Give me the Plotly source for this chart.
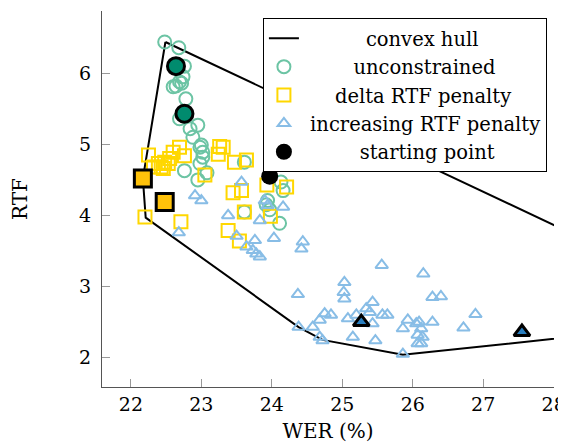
import plotly.graph_objects as go

# convex hull vertices (last vertex lies beyond the visible x-range)
hull_wer = [22.49, 22.17, 22.21, 24.38, 24.72, 25.86, 30.8, 22.49]
hull_rtf = [6.44, 4.52, 3.97, 2.43, 2.25, 2.04, 2.56, 6.44]

unc_wer = [22.48, 22.68, 22.76, 22.74, 22.69, 22.64, 22.72, 22.60, 22.78, 22.69,
           22.95, 22.84, 22.88, 23.00, 22.98, 23.02, 23.02, 22.98, 22.76, 23.08,
           22.95, 23.61, 24.13, 24.16, 23.94, 23.92, 23.97, 24.11, 23.61]
unc_rtf = [6.44, 6.36, 6.10, 5.95, 5.88, 5.82, 5.86, 5.81, 5.64, 5.36,
           5.27, 5.22, 5.10, 4.99, 4.96, 4.89, 4.82, 4.73, 4.63, 4.60,
           4.50, 4.75, 4.47, 4.35, 4.21, 4.15, 4.08, 3.89, 4.05]
unc_sel_wer = [22.64, 22.76]
unc_sel_rtf = [6.10, 5.43]

delta_wer = [22.25, 22.39, 22.48, 22.46, 22.55, 22.60, 22.69, 22.76, 22.32, 22.53,
             22.43, 22.20, 22.71, 23.05, 23.26, 23.31, 23.24, 23.47, 23.64, 23.45,
             23.57, 23.93, 24.21, 23.61, 23.98, 23.38, 23.54]
delta_rtf = [4.85, 4.73, 4.75, 4.66, 4.80, 4.89, 4.96, 4.84, 4.68, 4.73,
             4.68, 3.98, 3.91, 4.57, 4.97, 4.96, 4.86, 4.75, 4.78, 4.32,
             4.35, 4.43, 4.40, 4.05, 3.99, 3.79, 3.64]
delta_sel_wer = [22.17, 22.48]
delta_sel_rtf = [4.52, 4.19]

inc_wer = [22.91, 23.00, 23.38, 22.68, 23.57, 23.50, 23.76, 23.64, 23.73, 23.83,
           23.78, 24.03, 23.83, 23.94, 24.16, 23.90, 24.44, 24.42, 25.56, 25.03,
           25.02, 25.03, 25.43, 24.37, 24.75, 24.84, 24.68, 24.58, 24.38, 25.08,
           25.20, 25.34, 25.39, 25.43, 25.57, 25.64, 25.15, 24.68, 24.72, 25.47,
           25.86, 25.86, 25.93, 26.05, 26.07, 26.07, 26.15, 26.28, 26.40, 26.09,
           26.28, 26.12, 26.14, 26.12, 26.72, 26.89]
inc_rtf = [4.28, 4.21, 4.00, 3.76, 4.47, 3.71, 3.65, 3.56, 3.51, 3.42,
           3.46, 3.68, 3.93, 4.14, 4.12, 4.21, 3.63, 3.53, 3.30, 3.06,
           2.92, 2.83, 2.78, 2.89, 2.62, 2.60, 2.53, 2.43, 2.43, 2.55,
           2.60, 2.69, 2.64, 2.48, 2.60, 2.60, 2.29, 2.29, 2.24, 2.24,
           2.05, 2.41, 2.53, 2.48, 2.32, 2.20, 3.18, 2.85, 2.86, 2.50,
           2.50, 2.41, 2.29, 2.20, 2.42, 2.61]
inc_sel_wer = [25.27, 27.55]
inc_sel_rtf = [2.50, 2.36]

start_wer = [23.97]
start_rtf = [4.55]

x_ticks = [22, 23, 24, 25, 26, 27, 28]
y_ticks = [2, 3, 4, 5, 6]

FONT = "DejaVu Serif"
NB = "\u00a0"

fig = go.Figure()
fig.add_trace(go.Scatter(x=hull_wer, y=hull_rtf, mode="lines",
                         line=dict(color="black", width=2),
                         name=NB * 10 + "convex hull"))
fig.add_trace(go.Scatter(x=unc_wer, y=unc_rtf, mode="markers",
                         marker=dict(symbol="circle-open", size=13, color="#6cc4a4",
                                     line=dict(width=2, color="#6cc4a4")),
                         name=NB * 8 + "unconstrained"))
fig.add_trace(go.Scatter(x=delta_wer, y=delta_rtf, mode="markers",
                         marker=dict(symbol="square-open", size=13, color="#ffd700",
                                     line=dict(width=2, color="#ffd700")),
                         name=NB * 5 + "delta RTF penalty"))
fig.add_trace(go.Scatter(x=inc_wer, y=inc_rtf, mode="markers",
                         marker=dict(symbol="triangle-up-open", size=11, color="#88bde6",
                                     line=dict(width=2, color="#88bde6")),
                         name=NB + "increasing RTF penalty"))
fig.add_trace(go.Scatter(x=unc_sel_wer, y=unc_sel_rtf, mode="markers", showlegend=False,
                         marker=dict(symbol="circle", size=17, color="#008b6e",
                                     line=dict(width=3, color="black"))))
fig.add_trace(go.Scatter(x=delta_sel_wer, y=delta_sel_rtf, mode="markers", showlegend=False,
                         marker=dict(symbol="square", size=17, color="#ffc20a",
                                     line=dict(width=3, color="black"))))
fig.add_trace(go.Scatter(x=inc_sel_wer, y=inc_sel_rtf, mode="markers", showlegend=False,
                         marker=dict(symbol="triangle-up", size=14, color="#2a7fc0",
                                     line=dict(width=3, color="black"))))
fig.add_trace(go.Scatter(x=start_wer, y=start_rtf, mode="markers",
                         marker=dict(symbol="circle", size=17, color="black"),
                         name=NB * 9 + "starting point"))

fig.update_layout(
    width=558, height=440,
    margin=dict(l=94, r=12, t=3, b=61, autoexpand=False),
    paper_bgcolor="white", plot_bgcolor="white",
    font=dict(family=FONT, size=19, color="black"),
    showlegend=True,
    legend=dict(x=0.356, y=0.981, xanchor="left", yanchor="top",
                bgcolor="white", bordercolor="black", borderwidth=1,
                font=dict(family=FONT, size=19.5, color="black"),
                tracegroupgap=0),
    xaxis=dict(range=[21.59, 28.005], tickvals=x_ticks, ticks="inside", ticklen=8,
               tickcolor="#999", showline=True, linecolor="#555", linewidth=1,
               showgrid=False, zeroline=False, ticklabelstandoff=0, automargin=False,
               tickfont=dict(family=FONT, size=19),
               title=dict(text="WER (%)", standoff=10, font=dict(family=FONT, size=20))),
    yaxis=dict(range=[1.587, 6.876], tickvals=y_ticks, ticks="inside", ticklen=8,
               tickcolor="#999", showline=True, linecolor="#555", linewidth=1,
               showgrid=False, zeroline=False, ticklabelstandoff=6, automargin=False,
               tickfont=dict(family=FONT, size=19),
               title=dict(text="RTF", standoff=50, font=dict(family=FONT, size=20))),
)

fig.write_html("out.html")
